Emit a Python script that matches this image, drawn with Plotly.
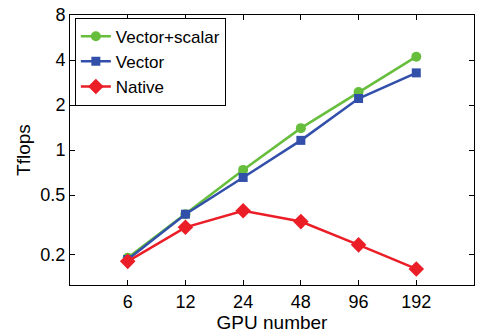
import plotly.graph_objects as go
import math

gpus = [6, 12, 24, 48, 96, 192]
vector_scalar = [0.19, 0.372, 0.736, 1.40, 2.44, 4.21]
vector = [0.185, 0.372, 0.655, 1.16, 2.21, 3.28]
native = [0.18, 0.304, 0.392, 0.332, 0.232, 0.16]
x_ticks = [6, 12, 24, 48, 96, 192]
y_ticks = [0.2, 0.5, 1, 2, 4, 8]
y_tick_text = ["0.2", "0.5", "1", "2", "4", "8"]

font = "Liberation Sans, Arial, sans-serif"

fig = go.Figure()
fig.add_trace(go.Scatter(x=gpus, y=vector_scalar, name="Vector+scalar", mode="lines+markers",
                         line=dict(color="rgb(102,190,60)", width=2.5),
                         marker=dict(symbol="circle", size=10, color="rgb(102,190,60)")))
fig.add_trace(go.Scatter(x=gpus, y=vector, name="Vector", mode="lines+markers",
                         line=dict(color="rgb(50,80,170)", width=2.5),
                         marker=dict(symbol="square", size=9, color="rgb(50,80,170)")))
fig.add_trace(go.Scatter(x=gpus, y=native, name="Native", mode="lines+markers",
                         line=dict(color="rgb(235,30,40)", width=2.5),
                         marker=dict(symbol="diamond", size=12, color="rgb(235,30,40)")))

fig.update_layout(
    width=480, height=333,
    margin=dict(l=70, r=5, t=11, b=48),
    paper_bgcolor="white", plot_bgcolor="white",
    font=dict(family=font, size=18, color="black"),
    showlegend=True,
    legend=dict(x=0.012, y=0.99, xanchor="left", yanchor="top",
                bgcolor="white", bordercolor="black", borderwidth=1,
                font=dict(size=17), tracegroupgap=0, itemwidth=30),
)
fig.update_xaxes(type="log", range=[math.log10(3), math.log10(384)],
                 tickvals=x_ticks, ticktext=[str(v) for v in x_ticks],
                 ticks="inside", ticklen=5, tickcolor="black",
                 showline=True, linecolor="black", linewidth=1, mirror="ticks",
                 showgrid=False, zeroline=False,
                 tickfont=dict(size=18),
                 title=dict(text="GPU number", standoff=0, font=dict(size=19)))
fig.update_yaxes(type="log", range=[math.log10(0.125), math.log10(8)],
                 tickvals=y_ticks, ticktext=y_tick_text,
                 ticks="inside", ticklen=5, tickcolor="black",
                 showline=True, linecolor="black", linewidth=1, mirror="ticks",
                 showgrid=False, zeroline=False,
                 tickfont=dict(size=18),
                 title=dict(text="Tflops", standoff=4, font=dict(size=19)))

fig.write_html("out.html", config={"displayModeBar": False},
               post_script="document.body.style.margin='0';")
